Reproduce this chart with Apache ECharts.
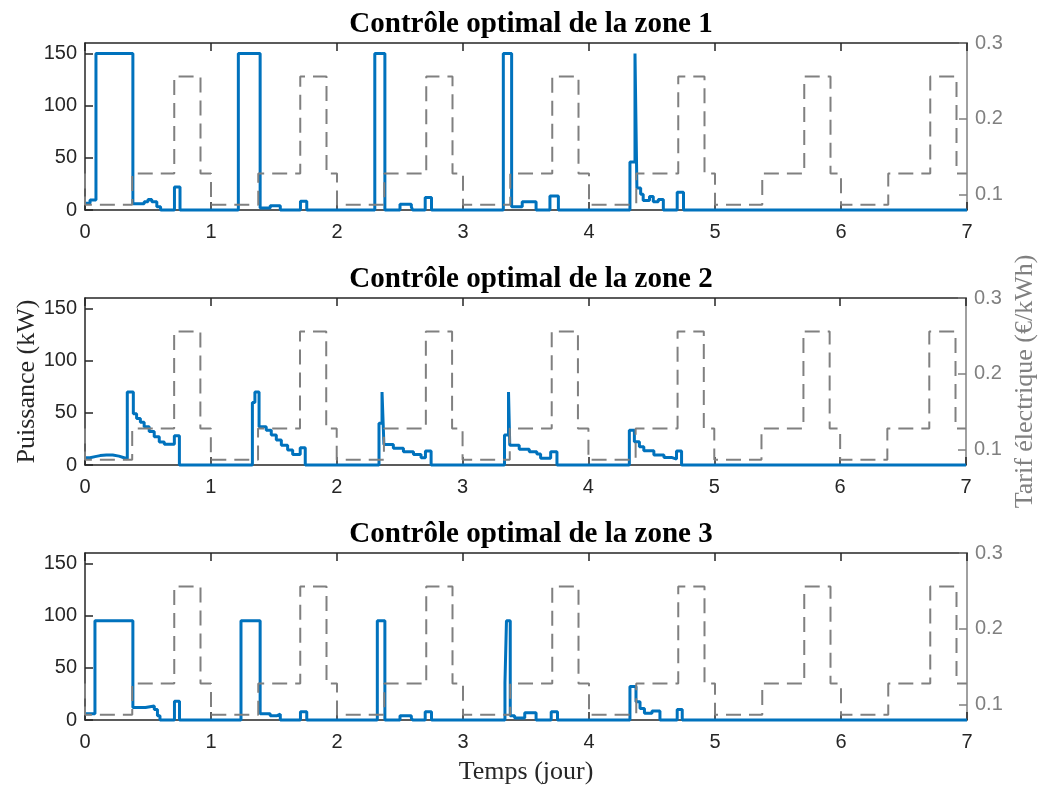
<!DOCTYPE html>
<html><head><meta charset="utf-8">
<script src="https://cdn.jsdelivr.net/npm/echarts@6/dist/echarts.min.js"></script>
<style>html,body{margin:0;padding:0;background:#fff}#c{width:1046px;height:793px}</style>
</head><body><div id="c"></div>
<script>
// ---- data ----
const titles = ['Contrôle optimal de la zone 1', 'Contrôle optimal de la zone 2', 'Contrôle optimal de la zone 3'];
const xTicks = [0, 1, 2, 3, 4, 5, 6, 7];
const powerTicks = [0, 50, 100, 150];
const tariffTicks = [0.1, 0.2, 0.3];
const nDays = 7;
// daily tariff schedule (start hour of each period, price in €/kWh)
const tariffHours = [0, 9, 17, 22];
const tariffLevels = [0.087, 0.128, 0.256, 0.128];
const tariffInitial = 0.128;

// power breakpoints [time (day), kW] (value held until next breakpoint)
const zone1 = [
  [0, 6.5], [0.04, 9.5], [0.087, 150], [0.38, 6], [0.47, 8], [0.5, 10], [0.53, 8], [0.57, 3], [0.6, 0], [0.71, 22], [0.754, 0],
  [1.217, 150], [1.39, 2], [1.47, 4], [1.55, 0], [1.71, 8.5], [1.76, 0],
  [2.30, 150], [2.38, 0], [2.5, 5.5], [2.59, 3], [2.6, 0], [2.70, 12], [2.75, 0],
  [3.32, 150], [3.386, 3], [3.47, 8], [3.58, 0], [3.69, 13.5], [3.757, 0],
  [4.325, 46], [4.365, 150], [4.38, 21], [4.41, 15], [4.43, 9], [4.48, 13], [4.51, 8], [4.55, 10], [4.59, 0], [4.70, 17], [4.75, 0],
  [7, 0]
];
const zone2 = [
  [0, 7], [0.04, 8], [0.08, 9], [0.12, 9.5], [0.17, 9.5], [0.22, 8.5], [0.27, 7], [0.31, 6], [0.336, 70], [0.384, 49], [0.41, 44.6], [0.44, 41], [0.47, 36.6], [0.51, 32], [0.55, 27], [0.59, 22], [0.63, 20], [0.71, 28], [0.75, 0],
  [1.33, 60], [1.35, 70], [1.383, 36.6], [1.44, 33.4], [1.48, 28.7], [1.52, 24], [1.56, 19], [1.61, 14.3], [1.65, 10], [1.71, 16.5], [1.75, 0],
  [2.336, 40], [2.36, 70], [2.375, 19.7], [2.45, 16], [2.53, 12.7], [2.61, 10], [2.67, 7], [2.705, 13.4], [2.75, 0],
  [3.333, 28.7], [3.365, 70], [3.375, 19], [3.45, 15], [3.53, 12.7], [3.59, 10.5], [3.62, 6.4], [3.70, 12.7], [3.75, 0],
  [4.325, 33.4], [4.365, 22.3], [4.405, 17.5], [4.44, 13.7], [4.52, 9.5], [4.6, 7.3], [4.66, 5.7], [4.70, 13.4], [4.74, 0],
  [7, 0]
];
const zone3 = [
  [0, 6], [0.079, 95], [0.38, 12], [0.48, 13.5], [0.55, 10], [0.575, 4], [0.595, 0], [0.71, 18], [0.75, 0],
  [1.238, 95], [1.39, 6], [1.47, 4], [1.52, 5.5], [1.55, 0], [1.71, 8], [1.76, 0],
  [2.32, 95], [2.38, 0], [2.5, 4], [2.59, 2], [2.6, 0], [2.70, 8], [2.75, 0],
  [3.333, 36], [3.345, 95], [3.375, 4], [3.41, 2], [3.49, 7], [3.58, 0], [3.70, 8], [3.75, 0],
  [4.325, 32], [4.373, 17.5], [4.405, 11], [4.44, 6.4], [4.5, 8.6], [4.563, 0], [4.70, 10], [4.74, 0],
  [7, 0]
];
const zones = [zone1, zone2, zone3];

// ---- build ----
const tariff = [[0, tariffInitial]];
for (let d = 0; d < nDays; d++) {
  for (let k = 0; k < tariffHours.length; k++) tariff.push([d + tariffHours[k] / 24, tariffLevels[k]]);
}
tariff.push([nDays, tariffLevels[tariffLevels.length - 1]]);

const BLUE = '#0072BD', GREY = '#808080', DARK = '#262626';
const gridTops = [43, 298, 553];
const grids = [], xAxes = [], yAxes = [], series = [], title = [];
gridTops.forEach((top, i) => {
  grids.push({left: 85, right: 79, top: top, height: 167});
  title.push({text: titles[i], left: 526, top: top - 38, textAlign: 'center',
    textStyle: {fontFamily: 'Liberation Serif', fontWeight: 'bold', fontSize: 29, color: '#000'}});
  const lineStyle = {color: DARK, width: 1.5};
  xAxes.push({gridIndex: i, type: 'value', min: 0, max: 7, interval: 1, position: 'bottom',
    axisLine: {onZero: false, lineStyle}, axisTick: {inside: true, length: 8, lineStyle},
    axisLabel: {color: DARK, fontSize: 20, fontFamily: 'Liberation Sans', margin: 12, customValues: xTicks},
    splitLine: {show: false},
    name: i === 2 ? 'Temps (jour)' : '', nameLocation: 'middle', nameGap: 39, nameMoveOverlap: false,
    nameTextStyle: {fontFamily: 'Liberation Serif', fontSize: 26, color: DARK}});
  xAxes.push({gridIndex: i, type: 'value', min: 0, max: 7, interval: 1, position: 'top',
    axisLine: {onZero: false, lineStyle}, axisTick: {inside: true, length: 8, lineStyle},
    axisLabel: {show: false}, splitLine: {show: false}});
  yAxes.push({gridIndex: i, type: 'value', min: 0, max: 160, position: 'left',
    axisLine: {show: true, onZero: false, lineStyle}, axisTick: {show: true, inside: true, length: 8, lineStyle, customValues: powerTicks},
    axisLabel: {color: DARK, fontSize: 20, fontFamily: 'Liberation Sans', margin: 8, customValues: powerTicks},
    splitLine: {show: false},
    name: i === 1 ? 'Puissance (kW)' : '', nameLocation: 'middle', nameGap: 45, nameMoveOverlap: false,
    nameTextStyle: {fontFamily: 'Liberation Serif', fontSize: 26, color: DARK}});
  yAxes.push({gridIndex: i, type: 'value', min: 0.08, max: 0.3, position: 'right',
    axisLine: {show: true, onZero: false, lineStyle: {color: GREY, width: 1.5}},
    axisTick: {show: true, inside: true, length: 8, lineStyle: {color: GREY, width: 1.5}, customValues: tariffTicks},
    axisLabel: {color: GREY, fontSize: 20, fontFamily: 'Liberation Sans', margin: 8, customValues: tariffTicks,
      formatter: v => v.toFixed(1)},
    splitLine: {show: false},
    name: i === 1 ? 'Tarif électrique (€/kWh)' : '', nameLocation: 'middle', nameGap: 46, nameMoveOverlap: false,
    nameTextStyle: {fontFamily: 'Liberation Serif', fontSize: 26, color: GREY}});
  series.push({type: 'line', xAxisIndex: 2 * i, yAxisIndex: 2 * i, data: zones[i], step: 'end',
    showSymbol: false, symbol: 'none', clip: false, z: 2,
    lineStyle: {color: BLUE, width: 3}, animation: false});
  series.push({type: 'line', xAxisIndex: 2 * i, yAxisIndex: 2 * i + 1, data: tariff, step: 'end',
    showSymbol: false, symbol: 'none', z: 3,
    lineStyle: {color: GREY, width: 2, type: [15, 8]}, animation: false});
});

const chart = echarts.init(document.getElementById('c'), null, {renderer: 'canvas'});
chart.setOption({animation: false, backgroundColor: '#fff', title, grid: grids, xAxis: xAxes, yAxis: yAxes, series});
</script></body></html>
